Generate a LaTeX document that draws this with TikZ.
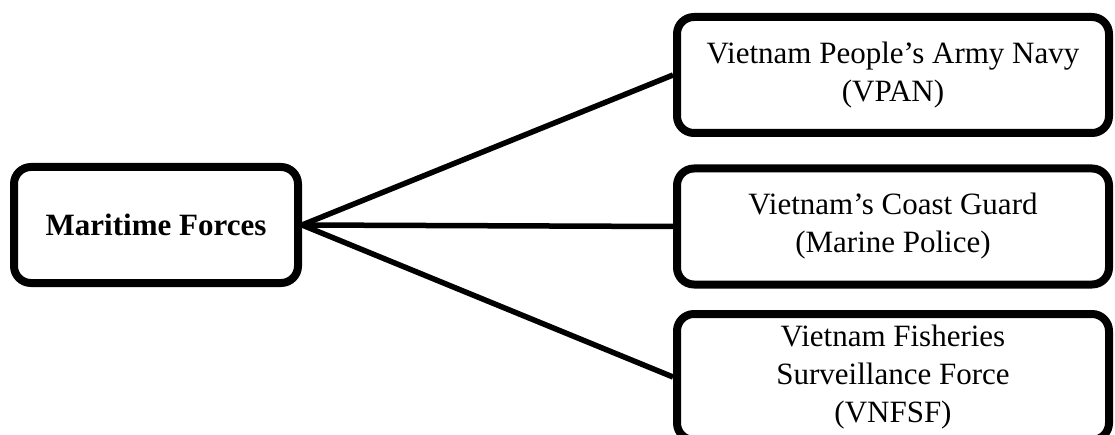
\documentclass[tikz,border=0pt]{standalone}
\usepackage{fontspec}
\setmainfont{Liberation Serif}
\begin{document}
\begin{tikzpicture}[x=1pt, y=1pt]
      \tikzset{forcebox/.style={draw, line width=8pt, rounded corners=17pt, align=center, inner sep=0pt,
          minimum height=116pt, font=\fontsize{31}{38}\selectfont}}
      \useasboundingbox (0,0) rectangle (1115,434);
%% Boxes
      	\node[forcebox, minimum width=284pt, font=\fontsize{31}{38}\selectfont\bfseries] (mf) at (156,209) {Maritime Forces};
      	\node[forcebox, minimum width=432pt] (vpan) at (893,359) {Vietnam People’s Army Navy\\(VPAN)};
    	\node[forcebox, minimum width=432pt] (cg) at (893,207.5) {Vietnam’s Coast Guard\\(Marine Police)};
  	    \node[forcebox, minimum width=432pt, minimum height=126pt] (fsf) at (893,57) {Vietnam Fisheries\\Surveillance Force\\(VNFSF)};
%Links
		\path[line width=5.5pt] (mf.east) edge (vpan.west);
		\path[line width=5.5pt] (mf.east) edge (cg.west);
		\path[line width=5.5pt] (mf.east) edge (fsf.west);
	\end{tikzpicture}
\end{document}
